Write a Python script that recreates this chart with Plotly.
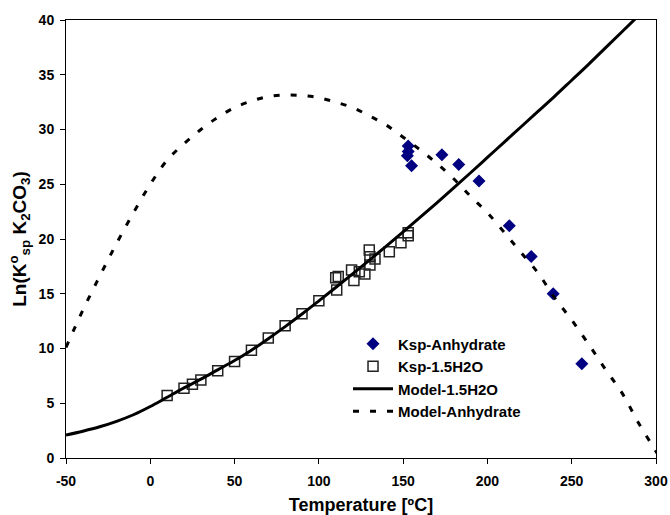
import plotly.graph_objects as go

# Ksp-Anhydrate data
anh_T = [153, 153, 152.5, 155, 173, 183, 195, 213, 226, 239, 256]
anh_K = [28.5, 28.0, 27.6, 26.7, 27.7, 26.8, 25.3, 21.2, 18.4, 15.0, 8.6]

# Ksp-1.5H2O data
hyd_T = [10, 20, 25, 30, 40, 50, 60, 70, 80, 90, 100, 110.6, 110, 111.5, 119.4,
         120.8, 124, 127.3, 129.9, 130.3, 130.3, 133.3, 141.8, 148.7, 153, 153]
hyd_K = [5.7, 6.36, 6.73, 7.12, 7.97, 8.82, 9.85, 10.95, 12.07, 13.17, 14.35, 15.35,
         16.47, 16.57, 17.18, 16.2, 17.02, 16.8, 19.0, 18.39, 17.63, 18.18, 18.84,
         19.66, 20.58, 20.3]

# Model-1.5H2O curve
mh_T = [-50, -40, -30, -20, -10, 0, 10, 20, 30, 40, 50, 60, 70, 80, 90, 100, 110,
        120, 130, 140, 150, 160, 170, 180, 190, 200, 210, 220, 230, 240, 250, 260,
        270, 280, 290]
mh_K = [2.1, 2.45, 2.85, 3.35, 3.95, 4.7, 5.55, 6.4, 7.2, 8.05, 8.9, 9.85, 10.9,
        12.0, 13.15, 14.35, 15.57, 16.81, 18.07, 19.35, 20.65, 21.97, 23.31, 24.67,
        26.05, 27.45, 28.85, 30.25, 31.65, 33.05, 34.5, 35.95, 37.45, 38.95, 40.45]

# Model-Anhydrate curve
ma_T = [-50, -40, -30, -20, -10, 0, 10, 20, 30, 40, 50, 60, 70, 80, 90, 100, 110,
        120, 130, 140, 150, 160, 170, 180, 190, 200, 210, 220, 230, 240, 250, 260,
        270, 280, 290, 300, 305]
ma_K = [10.1, 13.5, 16.6, 19.6, 22.4, 25.0, 27.2, 28.7, 30.0, 31.1, 32.0, 32.6,
        33.0, 33.15, 33.1, 32.9, 32.5, 32.0, 31.25, 30.4, 29.3, 28.15, 26.9, 25.5,
        23.9, 22.4, 20.6, 18.75, 16.9, 14.6, 12.6, 10.4, 8.1, 5.9, 3.1, 0.6, -0.7]

x_ticks = [-50, 0, 50, 100, 150, 200, 250, 300]
y_ticks = [0, 5, 10, 15, 20, 25, 30, 35, 40]

FONT = "Liberation Sans, Arial, sans-serif"

fig = go.Figure()
fig.add_trace(go.Scatter(
    x=anh_T, y=anh_K, mode="markers", name="<b>Ksp-Anhydrate</b>",
    legendgroup="a",
    marker=dict(symbol="diamond", size=10, color="#000080",
                line=dict(width=0))))
fig.add_trace(go.Scatter(
    x=hyd_T, y=hyd_K, mode="markers", name="<b>Ksp-1.5H2O</b>",
    legendgroup="b",
    marker=dict(symbol="square-open", size=10, color="#222222",
                line=dict(width=1.5))))
fig.add_trace(go.Scatter(
    x=mh_T, y=mh_K, mode="lines", name="<b>Model-1.5H2O</b>",
    legendgroup="c",
    line=dict(color="black", width=3, shape="spline")))
fig.add_trace(go.Scatter(
    x=ma_T, y=ma_K, mode="lines", name="<b>Model-Anhydrate</b>",
    legendgroup="d",
    line=dict(color="black", width=3, shape="spline", dash="6px,11px")))

fig.update_layout(
    width=670, height=515,
    margin=dict(l=66, r=14, t=20, b=57),
    paper_bgcolor="white", plot_bgcolor="white",
    font=dict(family=FONT, color="black", size=14),
    showlegend=True,
    legend=dict(x=0.478, y=0.298, xanchor="left", yanchor="top",
                bgcolor="rgba(0,0,0,0)", font=dict(size=15, family=FONT),
                traceorder="grouped", tracegroupgap=0, itemwidth=40),
    xaxis=dict(range=[-50, 300], tickvals=x_ticks,
               ticktext=[f"<b>{v}</b>" for v in x_ticks],
               showgrid=False, zeroline=False, showline=True, linecolor="black",
               linewidth=1, mirror=True, ticks="outside", ticklen=5,
               tickcolor="black", ticklabelstandoff=5, automargin=False,
               tickfont=dict(size=14),
               title=dict(text="<b>Temperature [ºC]</b>",
                          font=dict(size=18, family=FONT), standoff=13)),
    yaxis=dict(range=[0, 40], tickvals=y_ticks,
               ticktext=[f"<b>{v}</b>" for v in y_ticks],
               showgrid=False, zeroline=False, showline=True, linecolor="black",
               linewidth=1, mirror=True, ticks="outside", ticklen=5,
               tickcolor="black", ticklabelstandoff=3, automargin=False,
               tickfont=dict(size=14),
               title=dict(text="<b>Ln(K<sup>o</sup><sub>sp</sub> K<sub>2</sub>CO<sub>3</sub>)</b>",
                          font=dict(size=19, family=FONT), standoff=6)),
)

fig.write_html("out.html")
